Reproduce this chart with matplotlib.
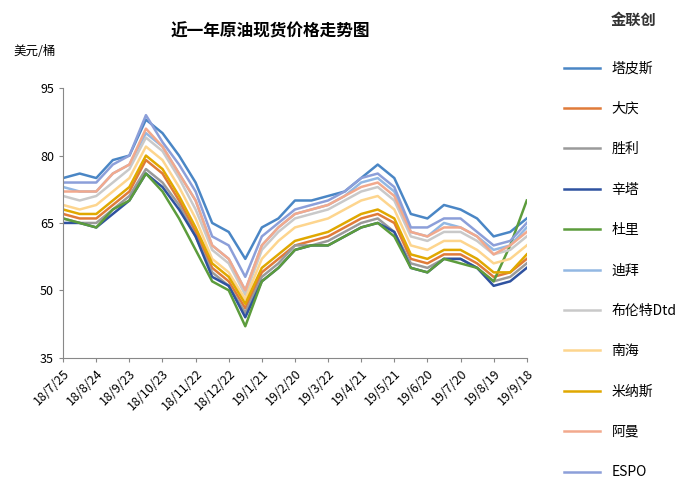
import matplotlib.pyplot as plt

plt.rcParams['font.family'] = ['Noto Sans CJK SC', 'DejaVu Sans']

days = list(range(0, 421, 15))
tick_days = list(range(0, 421, 30))
tick_labels = ["18/7/25", "18/8/24", "18/9/23", "18/10/23", "18/11/22", "18/12/22", "19/1/21",
               "19/2/20", "19/3/22", "19/4/21", "19/5/21", "19/6/20", "19/7/20", "19/8/19", "19/9/18"]

tapis = [75, 76, 75, 79, 80, 88, 85, 80, 74, 65, 63, 57, 64, 66, 70, 70, 71, 72, 75, 78, 75, 67, 66, 69, 68, 66, 62, 63, 66]
daqing = [67, 66, 66, 69, 72, 79, 76, 70, 63, 55, 52, 46, 54, 57, 60, 61, 62, 64, 66, 67, 65, 57, 56, 58, 58, 56, 53, 54, 57]
shengli = [66, 65, 65, 68, 71, 77, 74, 69, 62, 54, 51, 45, 53, 56, 60, 60, 61, 63, 65, 66, 63, 56, 55, 57, 57, 55, 52, 53, 56]
xinta = [65, 65, 64, 67, 70, 76, 73, 68, 62, 53, 51, 44, 52, 55, 59, 60, 60, 62, 64, 65, 63, 55, 54, 57, 57, 55, 51, 52, 55]
duri = [66, 65, 64, 68, 70, 76, 72, 66, 59, 52, 50, 42, 52, 55, 59, 60, 60, 62, 64, 65, 62, 55, 54, 57, 56, 55, 52, 60, 70]
dubai = [73, 72, 72, 76, 78, 85, 82, 76, 70, 60, 57, 50, 60, 64, 67, 68, 69, 71, 74, 75, 72, 63, 62, 65, 64, 62, 59, 60, 64]
brent = [71, 70, 71, 74, 77, 84, 81, 75, 68, 59, 56, 49, 59, 63, 66, 67, 68, 70, 72, 73, 70, 62, 61, 63, 63, 61, 58, 59, 62]
nanhai = [69, 68, 69, 72, 75, 82, 79, 73, 66, 57, 54, 48, 57, 61, 64, 65, 66, 68, 70, 71, 68, 60, 59, 61, 61, 59, 56, 57, 60]
minas = [68, 67, 67, 70, 73, 80, 77, 71, 64, 56, 53, 47, 55, 58, 61, 62, 63, 65, 67, 68, 66, 58, 57, 59, 59, 57, 54, 54, 58]
oman = [72, 72, 72, 76, 78, 86, 82, 76, 70, 60, 57, 50, 60, 64, 67, 68, 69, 71, 73, 74, 71, 63, 62, 64, 64, 62, 58, 60, 63]
espo = [74, 74, 74, 78, 80, 89, 83, 78, 72, 62, 60, 53, 62, 65, 68, 69, 70, 72, 75, 76, 73, 64, 64, 66, 66, 63, 60, 61, 65]

series = [
    ("塔皮斯", tapis, "#4a86c5"),
    ("大庆", daqing, "#e07b39"),
    ("胜利", shengli, "#9a9a9a"),
    ("辛塔", xinta, "#2f52a0"),
    ("杜里", duri, "#5c9c3c"),
    ("迪拜", dubai, "#93b8e3"),
    ("布伦特Dtd", brent, "#c9c9c9"),
    ("南海", nanhai, "#fdd58e"),
    ("米纳斯", minas, "#e0a800"),
    ("阿曼", oman, "#f2a98d"),
    ("ESPO", espo, "#8c9fd9"),
]

fig = plt.figure(figsize=(6.94, 4.90), dpi=100)
ax = fig.add_axes([0.091, 0.27, 0.668, 0.55])
for name, vals, color in series:
    ax.plot(days, vals, color=color, lw=1.8, label=name)

ax.set_ylim(35, 95)
ax.set_yticks([35, 50, 65, 80, 95])
ax.set_xlim(0, 420)
ax.set_xticks(tick_days)
ax.set_xticklabels(tick_labels, rotation=45, ha="right", rotation_mode="anchor")
ax.tick_params(labelsize=9, length=3, color="#888888")
for s in ("top", "right"):
    ax.spines[s].set_visible(False)
ax.spines["left"].set_color("#888888")
ax.spines["bottom"].set_color("#888888")

fig.text(0.39, 0.935, "近一年原油现货价格走势图", ha="center", va="center", fontsize=12, fontweight="bold")
fig.text(0.02, 0.895, "美元/桶", ha="left", va="center", fontsize=9)
fig.text(0.88, 0.96, "金联创", ha="left", va="center", fontsize=11, fontweight="bold", color="#333333")

fig.legend(loc="upper left", bbox_to_anchor=(0.795, 0.9), frameon=False, fontsize=10,
           labelspacing=1.9, handlelength=2.6, handletextpad=0.8)

fig.savefig("out.png", dpi=100)
